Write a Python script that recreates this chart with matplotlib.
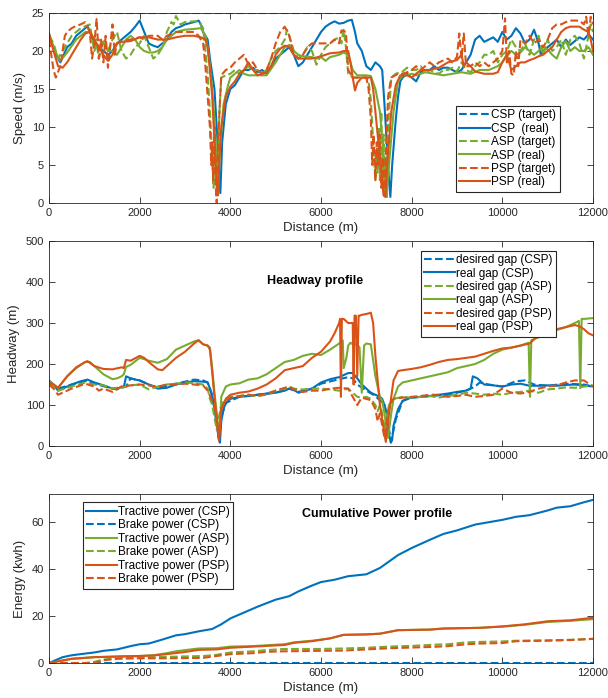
import matplotlib.pyplot as plt

plt.rcParams['font.family'] = ['Liberation Sans', 'DejaVu Sans']

BLUE = '#0072BD'
ORANGE = '#D95319'
GREEN = '#77AC30'
DARK = '#262626'

# ---------------- speed profile ----------------
csp_target_d = [0, 12000]
csp_target_v = [25, 25]

csp_real_d = [0, 150, 250, 400, 500, 600, 700, 800, 850, 900, 1000, 1100, 1200, 1300, 1400, 1500, 1600, 1700,
              1800, 1900, 2000, 2100, 2200, 2300, 2400, 2500, 2600, 2700, 2800, 2900, 3000, 3200, 3300, 3350,
              3400, 3500, 3550, 3600, 3650, 3700, 3750, 3780, 3820, 3900, 4000, 4100, 4200, 4300, 4400, 4500,
              4600, 4700, 4800, 4900, 5000, 5100, 5200, 5300, 5400, 5500, 5600, 5700, 5800, 5900, 6000, 6100,
              6200, 6300, 6400, 6500, 6600, 6680, 6750, 6800, 6900, 7000, 7100, 7200, 7300, 7350, 7400, 7450,
              7500, 7530, 7570, 7650, 7700, 7750, 7800, 7900, 8000, 8100, 8200, 8300, 8400, 8500, 8600, 8700,
              8800, 8900, 9000, 9100, 9200, 9300, 9400, 9500, 9600, 9700, 9800, 9900, 10000, 10100, 10200,
              10300, 10400, 10500, 10600, 10700, 10800, 10850, 10900, 11000, 11100, 11200, 11300, 11400, 11500,
              11600, 11700, 11800, 11900, 12000]
csp_real_v = [22.3, 19.5, 18.5, 20.5, 21.0, 22.0, 22.5, 23.0, 23.3, 22.5, 21.0, 20.5, 20.0, 19.5, 20.0, 21.0,
              21.5, 22.0, 22.5, 23.2, 24.0, 22.5, 21.0, 20.7, 20.5, 21.0, 21.5, 22.5, 23.0, 23.2, 23.5, 23.8,
              24.0, 23.5, 22.5, 21.5, 19.0, 17.0, 15.0, 10.0, 4.0, 1.3, 8.0, 13.0, 15.0, 15.5, 16.5, 17.5, 17.5,
              17.8, 17.2, 17.5, 17.0, 18.0, 19.0, 19.5, 20.0, 20.5, 19.5, 18.0, 18.5, 19.5, 20.5, 21.5, 22.5,
              23.2, 23.6, 23.9, 23.6, 23.7, 24.0, 24.1, 22.5, 21.0, 20.0, 18.0, 17.5, 18.5, 18.0, 17.5, 13.0,
              8.0, 3.0, 0.8, 5.0, 11.0, 14.0, 16.0, 16.5, 17.0, 16.5, 16.0, 17.2, 17.5, 17.5, 18.0, 17.5, 17.8,
              17.8, 17.5, 17.2, 17.5, 18.5, 19.5, 21.5, 22.0, 21.2, 21.5, 21.8, 21.2, 22.5, 21.5, 22.0, 23.0,
              22.3, 21.0, 21.5, 22.8, 21.0, 19.5, 20.0, 20.5, 21.0, 21.5, 20.5, 21.5, 20.8, 21.3, 21.8, 21.5,
              22.2, 21.5]

asp_target_d = [0, 100, 200, 300, 500, 700, 900, 1000, 1050, 1100, 1200, 1300, 1400, 1500, 1600, 1700, 1800,
                1900, 2000, 2100, 2200, 2300, 2400, 2500, 2600, 2700, 2750, 2800, 2900, 3000, 3200, 3300, 3400,
                3450, 3500, 3550, 3600, 3630, 3650, 3680, 3700, 3730, 3760, 3800, 3900, 4000, 4100, 4200, 4300,
                4400, 4500, 4600, 4700, 4800, 4900, 5000, 5100, 5200, 5250, 5300, 5400, 5500, 5600, 5700, 5800,
                5900, 6000, 6100, 6200, 6300, 6400, 6450, 6500, 6550, 6600, 6700, 6800, 6900, 7000, 7050, 7100,
                7150, 7200, 7220, 7250, 7280, 7300, 7330, 7350, 7380, 7400, 7430, 7450, 7480, 7550, 7650, 7800,
                7900, 8000, 8100, 8200, 8300, 8400, 8500, 8600, 8700, 8800, 8900, 9000, 9100, 9200, 9300, 9400,
                9500, 9600, 9700, 9800, 9900, 10000, 10100, 10200, 10300, 10400, 10500, 10600, 10700, 10800,
                10900, 11000, 11100, 11200, 11300, 11400, 11500, 11600, 11700, 11800, 11900, 11950, 12000]
asp_target_v = [22.0, 21.0, 19.0, 20.0, 22.0, 23.0, 23.5, 20.0, 21.0, 19.0, 21.5, 20.0, 21.5, 22.5, 20.0, 19.0,
                19.5, 20.5, 21.0, 22.0, 20.5, 19.0, 19.5, 20.5, 22.5, 23.8, 23.5, 24.6, 23.5, 23.8, 23.9, 23.9,
                23.0, 20.0, 17.0, 12.0, 6.0, 2.0, 7.0, 2.0, 1.0, 5.0, 12.0, 16.5, 16.8, 17.0, 17.5, 17.0, 17.5,
                18.0, 17.5, 17.5, 17.0, 17.5, 19.0, 20.0, 20.5, 21.5, 22.8, 22.0, 20.0, 19.0, 19.5, 20.5, 20.0,
                18.2, 19.5, 20.5, 21.0, 21.5, 21.8, 21.0, 22.8, 20.5, 17.0, 16.5, 16.5, 16.5, 16.5, 16.0, 13.5,
                8.0, 3.0, 7.0, 4.0, 10.0, 3.0, 12.0, 3.0, 9.0, 1.0, 6.0, 0.5, 10.0, 16.5, 17.0, 17.3, 17.8, 17.5,
                17.5, 18.0, 17.0, 17.5, 17.2, 17.0, 17.5, 17.5, 17.8, 17.3, 18.5, 17.5, 17.2, 18.0, 18.5, 19.5,
                19.5, 20.0, 18.5, 19.5, 20.0, 21.5, 20.5, 20.0, 21.0, 19.5, 21.5, 22.0, 19.5, 21.5, 20.0, 20.5,
                21.5, 19.5, 21.5, 22.0, 21.0, 19.0, 22.0, 23.5, 22.5]

asp_real_d = [0, 150, 250, 400, 600, 800, 900, 1000, 1100, 1200, 1300, 1400, 1500, 1600, 1700, 1800, 1900,
              2000, 2100, 2200, 2300, 2400, 2500, 2600, 2700, 2800, 3000, 3200, 3350, 3450, 3500, 3550, 3600,
              3650, 3700, 3730, 3770, 3850, 3950, 4000, 4100, 4200, 4300, 4400, 4600, 4800, 5000, 5200, 5300,
              5400, 5500, 5600, 5800, 5900, 6000, 6100, 6200, 6400, 6500, 6600, 6700, 6800, 6900, 7000, 7100,
              7200, 7300, 7400, 7450, 7500, 7600, 7700, 7800, 7900, 8000, 8100, 8200, 8300, 8500, 8700, 8900,
              9100, 9300, 9500, 9700, 9900, 10000, 10100, 10200, 10300, 10400, 10500, 10700, 10900, 11000,
              11100, 11200, 11300, 11400, 11500, 11600, 11700, 11800, 11900, 12000]
asp_real_v = [22.0, 19.8, 18.7, 19.8, 21.5, 22.5, 22.5, 21.5, 21.5, 21.0, 20.0, 20.0, 19.5, 20.5, 21.5, 22.0,
              21.5, 20.5, 20.0, 19.8, 19.8, 20.0, 20.5, 21.5, 22.0, 22.5, 22.8, 22.9, 23.0, 22.0, 20.5, 18.0,
              15.0, 11.0, 5.0, 1.5, 7.0, 13.0, 15.5, 16.5, 17.0, 17.5, 17.0, 16.8, 16.8, 16.8, 18.5, 20.5, 20.8,
              20.0, 19.5, 19.3, 19.2, 19.0, 19.2, 18.7, 19.2, 19.5, 19.8, 19.5, 17.5, 16.8, 16.8, 16.8, 16.7,
              15.0, 12.0, 5.0, 1.5, 5.0, 12.0, 16.0, 16.8, 16.8, 17.0, 16.8, 17.0, 17.2, 17.0, 16.8, 17.0, 17.2,
              17.0, 17.5, 17.5, 18.0, 18.5, 19.5, 20.0, 19.5, 19.8, 20.5, 19.5, 20.5, 20.2, 19.5, 19.0, 20.5,
              21.3, 20.0, 20.5, 20.0, 20.0, 20.5, 19.5]

psp_target_d = [0, 50, 100, 150, 250, 350, 400, 500, 600, 700, 800, 900, 950, 1000, 1050, 1100, 1150, 1200,
                1250, 1300, 1350, 1400, 1450, 1500, 1600, 1800, 2000, 2100, 2200, 2400, 2500, 2600, 2800, 3000,
                3200, 3300, 3400, 3450, 3500, 3550, 3580, 3600, 3620, 3650, 3680, 3700, 3720, 3760, 3800, 3900,
                4000, 4100, 4200, 4300, 4400, 4500, 4600, 4700, 4800, 4900, 5000, 5100, 5200, 5300, 5400, 5500,
                5600, 5700, 5800, 5900, 6000, 6100, 6200, 6300, 6400, 6450, 6550, 6600, 6700, 6800, 7000, 7050,
                7100, 7130, 7160, 7200, 7230, 7260, 7300, 7330, 7370, 7400, 7440, 7480, 7550, 7700, 7800, 7900,
                8000, 8100, 8200, 8300, 8400, 8500, 8600, 8800, 8900, 9000, 9050, 9100, 9150, 9200, 9300, 9400,
                9500, 9600, 9700, 9800, 9900, 10000, 10060, 10100, 10150, 10200, 10250, 10300, 10350, 10400,
                10500, 10600, 10700, 10800, 10900, 11000, 11100, 11200, 11300, 11400, 11500, 11600, 11700,
                11800, 11850, 11900, 11950, 12000]
psp_target_v = [21.5, 19.5, 17.5, 16.5, 18.0, 22.0, 22.5, 23.0, 23.3, 23.5, 23.8, 22.5, 19.0, 21.0, 24.2, 19.0,
                21.5, 18.5, 22.0, 17.8, 20.5, 23.5, 19.5, 21.0, 21.3, 21.5, 21.8, 21.5, 22.0, 22.0, 21.5, 22.0,
                22.5, 22.5, 22.5, 22.0, 21.0, 18.0, 14.0, 10.0, 5.0, 8.0, 3.0, 10.0, 2.0, 0.0, 6.0, 12.0, 16.8,
                17.5, 17.8, 18.5, 19.0, 19.5, 18.2, 18.5, 17.5, 17.0, 17.5, 19.0, 21.0, 22.5, 23.2, 22.0, 19.5,
                19.0, 19.5, 20.5, 21.0, 21.0, 21.0, 21.0, 21.0, 21.5, 21.0, 22.7, 22.5, 17.5, 16.5, 16.5, 16.5,
                15.0, 11.0, 5.0, 9.0, 3.0, 8.0, 5.0, 9.0, 2.0, 6.0, 1.0, 8.0, 14.0, 16.5, 17.0, 17.0, 17.2, 17.5,
                18.0, 17.5, 18.0, 18.5, 18.0, 18.5, 19.0, 18.5, 19.2, 22.3, 19.0, 22.3, 18.0, 18.0, 18.5, 18.0,
                18.5, 18.0, 18.5, 19.0, 20.0, 24.3, 18.5, 20.0, 17.0, 16.8, 20.0, 18.0, 21.5, 21.0, 22.0, 21.0,
                21.5, 20.5, 21.5, 23.0, 23.5, 23.5, 23.8, 24.0, 24.0, 24.0, 23.5, 24.5, 22.0, 24.5, 23.5]

psp_real_d = [0, 100, 200, 300, 400, 500, 600, 700, 800, 900, 1000, 1100, 1200, 1300, 1400, 1500, 1600, 1800,
              2000, 2200, 2400, 2600, 2800, 3000, 3200, 3350, 3450, 3500, 3550, 3600, 3650, 3700, 3730, 3760,
              3800, 3900, 4000, 4100, 4200, 4300, 4400, 4500, 4600, 4700, 4800, 4900, 5000, 5100, 5200, 5300,
              5400, 5500, 5600, 5800, 6000, 6200, 6400, 6500, 6600, 6650, 6700, 6750, 6800, 6900, 7000, 7100,
              7150, 7200, 7300, 7380, 7420, 7460, 7550, 7650, 7750, 7900, 8000, 8100, 8200, 8400, 8600, 8800,
              9000, 9100, 9150, 9200, 9300, 9400, 9600, 9800, 9900, 10000, 10100, 10150, 10200, 10300, 10400,
              10500, 10600, 10700, 10800, 10900, 11000, 11100, 11200, 11300, 11400, 11500, 11700, 11800, 11900,
              11950, 12000]
psp_real_v = [22.3, 20.0, 18.0, 17.8, 18.5, 19.5, 20.5, 21.5, 22.3, 22.5, 21.5, 20.5, 19.5, 18.7, 19.5, 21.0,
              21.2, 21.3, 21.8, 21.8, 21.5, 21.5, 21.8, 22.0, 22.0, 21.8, 21.5, 20.5, 17.5, 14.0, 8.0, 2.0, 1.0,
              6.0, 10.0, 14.0, 15.3, 16.0, 17.0, 17.5, 18.5, 17.5, 16.8, 17.0, 17.2, 18.0, 19.5, 20.3, 20.7,
              20.5, 19.5, 19.0, 19.0, 19.0, 19.3, 19.7, 19.8, 20.0, 20.0, 18.5, 16.5, 14.8, 15.8, 16.5, 16.5,
              16.5, 15.0, 12.0, 6.0, 1.0, 0.8, 5.0, 12.0, 15.5, 16.8, 16.8, 16.5, 17.0, 17.5, 17.5, 17.8, 18.5,
              18.8, 19.5, 18.0, 18.5, 18.0, 17.3, 17.0, 17.0, 17.2, 18.5, 19.5, 18.5, 17.5, 18.0, 18.5, 18.5,
              18.8, 19.0, 19.3, 19.5, 20.0, 20.5, 21.5, 22.5, 23.0, 23.2, 23.2, 22.8, 22.5, 21.5, 20.0]

# ---------------- headway profile ----------------
csp_des_d = [0, 200, 500, 850, 1000, 1400, 1700, 1800, 2000, 2200, 2400, 2800, 3200, 3400, 3500, 3600, 3700,
             3750, 3800, 3900, 4200, 4600, 5000, 5300, 5500, 5800, 6000, 6400, 6600, 6700, 6800, 7000, 7200,
             7400, 7500, 7550, 7650, 7800, 8000, 8400, 8800, 9200, 9400, 9500, 9700, 10000, 10300, 10500, 10700,
             11000, 11400, 11800, 12000]
csp_des_h = [155, 140, 150, 160, 152, 140, 145, 165, 160, 150, 142, 152, 162, 160, 155, 125, 60, 15, 70, 105,
             120, 125, 130, 140, 132, 140, 152, 163, 168, 165, 150, 135, 122, 100, 40, 12, 65, 110, 118, 122, 125,
             135, 145, 155, 150, 145, 158, 160, 150, 147, 152, 150, 145]

csp_gap_d = [0, 100, 200, 300, 500, 700, 850, 1000, 1200, 1400, 1500, 1600, 1650, 1700, 1800, 1900, 2000,
             2100, 2200, 2400, 2600, 2800, 3000, 3200, 3400, 3500, 3550, 3600, 3650, 3700, 3750, 3770, 3800,
             3850, 3900, 4000, 4200, 4400, 4600, 4800, 5000, 5200, 5300, 5400, 5500, 5600, 5800, 6000, 6200,
             6400, 6600, 6700, 6800, 6900, 7000, 7100, 7200, 7300, 7350, 7400, 7450, 7500, 7540, 7570, 7600,
             7700, 7800, 7900, 8000, 8200, 8400, 8600, 8800, 9000, 9200, 9300, 9350, 9450, 9600, 9800, 10000,
             10200, 10400, 10600, 10800, 11000, 11200, 11400, 11600, 11800, 12000]
csp_gap_h = [160, 150, 135, 140, 150, 158, 162, 155, 148, 140, 138, 145, 143, 170, 165, 162, 160, 155, 150,
             140, 142, 150, 155, 158, 157, 155, 140, 120, 90, 50, 15, 8, 60, 90, 105, 115, 120, 122, 125, 128,
             130, 135, 140, 137, 130, 133, 140, 155, 163, 168, 178, 178, 165, 150, 140, 130, 125, 120, 115, 100,
             80, 30, 8, 15, 50, 90, 110, 115, 118, 120, 122, 125, 128, 132, 135, 140, 170, 165, 150, 148, 145,
             150, 152, 147, 147, 148, 147, 149, 150, 148, 145]

asp_des_d = [0, 200, 500, 800, 1000, 1200, 1400, 1600, 1800, 2000, 2200, 2400, 2600, 2800, 3000, 3200, 3400,
             3500, 3550, 3600, 3650, 3700, 3730, 3800, 3900, 4000, 4200, 4400, 4600, 4800, 5000, 5200, 5300,
             5400, 5600, 5800, 6000, 6200, 6400, 6600, 6800, 6900, 7000, 7100, 7200, 7250, 7300, 7350, 7400,
             7450, 7500, 7600, 7800, 8000, 8200, 8400, 8600, 8800, 9000, 9200, 9400, 9600, 9800, 10000, 10200,
             10400, 10600, 10800, 11000, 11200, 11400, 11600, 11800, 12000]
asp_des_h = [155, 135, 145, 155, 150, 148, 140, 142, 148, 150, 138, 145, 150, 152, 155, 153, 150, 140, 115,
             100, 70, 40, 60, 100, 115, 120, 122, 125, 122, 125, 135, 140, 145, 140, 138, 140, 140, 138, 135,
             140, 120, 118, 120, 115, 100, 85, 100, 80, 40, 70, 100, 115, 120, 118, 120, 122, 118, 122, 125, 130,
             128, 125, 128, 125, 130, 132, 135, 130, 138, 140, 143, 142, 145, 148]

asp_gap_d = [0, 200, 400, 600, 800, 900, 1000, 1100, 1200, 1400, 1500, 1600, 1650, 1700, 1800, 2000, 2100,
             2200, 2400, 2600, 2800, 3000, 3200, 3300, 3400, 3500, 3550, 3600, 3650, 3700, 3750, 3780, 3800,
             3900, 4000, 4200, 4400, 4600, 4800, 5000, 5200, 5400, 5600, 5800, 6000, 6200, 6400, 6480, 6500,
             6560, 6600, 6650, 6700, 6800, 6850, 6900, 6950, 7000, 7100, 7200, 7300, 7350, 7400, 7450, 7480,
             7550, 7600, 7700, 7800, 8000, 8200, 8400, 8600, 8800, 9000, 9200, 9400, 9600, 9800, 10000, 10200,
             10400, 10580, 10610, 10640, 10800, 11000, 11200, 11400, 11600, 11690, 11720, 11750, 11800, 12000]
asp_gap_h = [158, 142, 170, 190, 205, 205, 195, 185, 175, 163, 165, 170, 175, 193, 198, 215, 212, 208, 203,
             212, 235, 245, 255, 258, 248, 245, 240, 190, 130, 80, 30, 60, 120, 145, 150, 153, 162, 165, 175,
             190, 205, 210, 220, 225, 222, 235, 250, 258, 190, 215, 245, 252, 248, 248, 240, 130, 245, 250, 248,
             170, 120, 110, 80, 40, 20, 80, 115, 145, 155, 160, 165, 170, 175, 180, 190, 195, 200, 210, 225, 235,
             240, 245, 252, 120, 258, 265, 275, 283, 290, 300, 305, 141, 310, 310, 312]

psp_des_d = [0, 100, 200, 300, 500, 800, 1000, 1100, 1200, 1400, 1600, 1800, 2000, 2200, 2400, 2600, 2800,
             3000, 3200, 3400, 3500, 3600, 3650, 3700, 3750, 3800, 3900, 4000, 4200, 4400, 4600, 4800, 5000,
             5200, 5300, 5400, 5600, 5800, 6000, 6200, 6400, 6600, 6700, 6800, 6900, 7000, 7100, 7200, 7250,
             7300, 7350, 7400, 7450, 7500, 7600, 7800, 8000, 8200, 8400, 8600, 8800, 9000, 9200, 9400, 9600,
             9800, 10000, 10200, 10400, 10600, 10800, 11000, 11200, 11400, 11600, 11800, 12000]
psp_des_h = [150, 140, 125, 130, 140, 152, 145, 135, 140, 132, 145, 148, 150, 148, 145, 150, 150, 152, 150,
             148, 135, 110, 100, 60, 15, 90, 110, 118, 122, 125, 122, 128, 135, 142, 145, 138, 132, 135, 135,
             140, 142, 140, 120, 100, 118, 115, 112, 90, 60, 80, 50, 20, 60, 100, 115, 118, 120, 122, 125, 125,
             120, 122, 125, 120, 122, 125, 140, 130, 128, 132, 140, 145, 148, 155, 160, 160, 145]

psp_gap_d = [0, 100, 200, 400, 600, 800, 850, 1000, 1200, 1400, 1600, 1650, 1700, 1800, 2000, 2100, 2200,
             2400, 2500, 2600, 2800, 3000, 3200, 3300, 3400, 3500, 3550, 3600, 3650, 3700, 3750, 3770, 3800,
             3900, 4000, 4200, 4400, 4600, 4800, 5000, 5200, 5400, 5600, 5800, 6000, 6200, 6300, 6400, 6420,
             6440, 6460, 6500, 6600, 6700, 6720, 6740, 6770, 6800, 6830, 6860, 6900, 7000, 7100, 7150, 7200,
             7300, 7400, 7430, 7480, 7550, 7600, 7700, 7800, 8000, 8200, 8400, 8600, 8800, 9000, 9200, 9400,
             9600, 9800, 10000, 10200, 10400, 10600, 10800, 11000, 11200, 11400, 11600, 11700, 11800, 11900,
             12000]
psp_gap_h = [155, 150, 142, 170, 192, 205, 207, 195, 188, 187, 192, 190, 210, 208, 220, 215, 205, 187, 185,
             195, 215, 230, 250, 258, 248, 245, 235, 180, 120, 70, 15, 40, 90, 115, 125, 130, 133, 140, 150, 165,
             185, 190, 195, 215, 230, 255, 275, 300, 310, 120, 310, 310, 300, 300, 150, 318, 318, 170, 318, 318,
             320, 322, 325, 300, 220, 100, 30, 10, 60, 120, 160, 183, 185, 188, 192, 198, 205, 210, 212, 215,
             218, 225, 232, 238, 240, 245, 250, 270, 278, 285, 290, 295, 292, 285, 275, 270]

# ---------------- cumulative energy ----------------
csp_trac_d = [0, 300, 500, 700, 1000, 1200, 1500, 1800, 2000, 2200, 2500, 2800, 3000, 3300, 3600, 3800, 4000,
              4300, 4600, 5000, 5300, 5500, 5800, 6000, 6300, 6600, 7000, 7300, 7700, 8000, 8400, 8700, 9000,
              9400, 9700, 10000, 10300, 10600, 11000, 11200, 11500, 11800, 12000]
csp_trac_e = [0, 2.5, 3.3, 3.8, 4.5, 5.2, 5.8, 7.2, 8.0, 8.3, 10.0, 11.8, 12.3, 13.5, 14.5, 16.5, 19.0, 21.5,
              24.0, 27.0, 28.5, 30.5, 33.0, 34.5, 35.5, 37.0, 37.8, 40.5, 46.0, 49.0, 52.5, 55.0, 56.5, 59.0,
              60.0, 61.0, 62.3, 63.0, 65.0, 66.2, 66.8, 68.5, 69.5]
csp_brake_d = [0, 12000]
csp_brake_e = [0, 0]

asp_trac_d = [0, 500, 1000, 1500, 2000, 2300, 2600, 2800, 3000, 3300, 3700, 4000, 4500, 5000, 5200, 5400, 5800,
              6200, 6500, 7000, 7300, 7700, 8400, 8700, 9500, 10000, 10500, 11000, 11500, 12000]
asp_trac_e = [0, 1.8, 2.5, 2.7, 3.0, 3.3, 4.2, 5.0, 5.5, 6.2, 6.3, 7.0, 7.2, 7.8, 8.0, 8.8, 9.5, 10.5, 12.0,
              12.2, 12.5, 14.0, 14.3, 14.7, 15.0, 15.5, 16.3, 17.5, 18.0, 18.7]
asp_brake_d = [0, 800, 1000, 1200, 1500, 2000, 2500, 3000, 3400, 3700, 4000, 4500, 4800, 5200, 6000, 6500, 7000,
               7500, 8000, 8500, 8800, 9200, 9500, 10000, 10300, 11000, 11500, 12000]
asp_brake_e = [0, 0, 0.5, 1.5, 2.0, 2.3, 2.6, 2.8, 3.0, 3.5, 4.5, 5.0, 5.5, 6.0, 6.0, 6.2, 6.5, 7.0, 7.3, 7.8,
               8.0, 8.8, 9.0, 9.2, 9.5, 9.7, 9.9, 10.3]

psp_trac_d = [0, 500, 1000, 1500, 2000, 2300, 2600, 3000, 3300, 3700, 4000, 4500, 5000, 5200, 5400, 5800, 6200,
              6500, 7000, 7300, 7700, 8400, 8700, 9500, 10000, 10500, 11000, 11500, 12000]
psp_trac_e = [0, 1.8, 2.5, 2.8, 3.0, 3.2, 3.8, 4.7, 5.6, 5.8, 6.5, 7.0, 7.5, 7.7, 8.6, 9.3, 10.5, 12.0, 12.2,
              12.5, 14.0, 14.2, 14.7, 15.0, 15.6, 16.5, 17.8, 18.2, 19.3]
psp_brake_d = [0, 1000, 1200, 1500, 2000, 2500, 3000, 3400, 3700, 4000, 4500, 4800, 5200, 6000, 6500, 7000, 7500,
               8000, 8500, 8800, 9200, 9500, 10000, 10300, 11000, 11500, 12000]
psp_brake_e = [0, 0, 1.2, 1.8, 2.0, 2.0, 2.1, 2.2, 3.0, 3.8, 4.2, 4.8, 5.0, 5.2, 5.3, 5.8, 6.3, 6.6, 6.9, 7.2,
               8.0, 8.3, 8.5, 9.3, 9.5, 9.8, 10.3]

LW = 1.5
FS = 8
LFS = 9.5


def style(ax):
    ax.set_xlim(0, 12000)
    ax.set_xticks(range(0, 12001, 2000))
    ax.tick_params(direction='in', top=True, right=True, length=4, width=0.6, pad=3.5,
                   labelsize=FS, colors=DARK)
    for s in ax.spines.values():
        s.set_color(DARK)
        s.set_linewidth(0.6)
    ax.set_xlabel('Distance (m)', fontsize=LFS, color=DARK, labelpad=3)


def legend(ax, **kw):
    leg = ax.legend(fontsize=8.5, handlelength=2.6, handletextpad=0.1, labelspacing=0.12,
                    borderpad=0.3, borderaxespad=0, fancybox=False, framealpha=1, **kw)
    leg.get_frame().set_edgecolor(DARK)
    leg.get_frame().set_linewidth(0.8)


fig = plt.figure(figsize=(6.08, 6.98), dpi=100)
ax1 = fig.add_axes([0.0806, 0.7092, 0.8947, 0.2722])
ax2 = fig.add_axes([0.0806, 0.3610, 0.8947, 0.2937])
ax3 = fig.add_axes([0.0806, 0.0501, 0.8947, 0.2421])

# speed
ax1.plot(csp_target_d, csp_target_v, '--', color=BLUE, lw=LW, label='CSP (target)')
ax1.plot(csp_real_d, csp_real_v, '-', color=BLUE, lw=LW, label='CSP  (real)')
ax1.plot(asp_target_d, asp_target_v, '--', color=GREEN, lw=LW, label='ASP (target)')
ax1.plot(asp_real_d, asp_real_v, '-', color=GREEN, lw=LW, label='ASP (real)')
ax1.plot(psp_target_d, psp_target_v, '--', color=ORANGE, lw=LW, label='PSP (target)')
ax1.plot(psp_real_d, psp_real_v, '-', color=ORANGE, lw=LW, label='PSP (real)')
style(ax1)
ax1.set_ylim(0, 25)
ax1.set_yticks(range(0, 26, 5))
ax1.set_ylabel('Speed (m/s)', fontsize=LFS, color=DARK)
legend(ax1, loc='lower right', bbox_to_anchor=(0.939, 0.058))

# headway
ax2.plot(csp_des_d, csp_des_h, '--', color=BLUE, lw=LW, label='desired gap (CSP)')
ax2.plot(csp_gap_d, csp_gap_h, '-', color=BLUE, lw=LW, label='real gap (CSP)')
ax2.plot(asp_des_d, asp_des_h, '--', color=GREEN, lw=LW, label='desired gap (ASP)')
ax2.plot(asp_gap_d, asp_gap_h, '-', color=GREEN, lw=LW, label='real gap (ASP)')
ax2.plot(psp_des_d, psp_des_h, '--', color=ORANGE, lw=LW, label='desired gap (PSP)')
ax2.plot(psp_gap_d, psp_gap_h, '-', color=ORANGE, lw=LW, label='real gap (PSP)')
style(ax2)
ax2.set_ylim(0, 500)
ax2.set_yticks(range(0, 501, 100))
ax2.set_ylabel('Headway (m)', fontsize=LFS, color=DARK)
ax2.text(0.489, 0.806, 'Headway profile', transform=ax2.transAxes, ha='center', va='center',
         fontsize=9, fontweight='bold', color='black')
legend(ax2, loc='upper right', bbox_to_anchor=(0.932, 0.953))

# energy
ax3.plot(csp_trac_d, csp_trac_e, '-', color=BLUE, lw=LW, label='Tractive power (CSP)')
ax3.plot(csp_brake_d, csp_brake_e, '--', color=BLUE, lw=LW, label='Brake power (CSP)')
ax3.plot(asp_trac_d, asp_trac_e, '-', color=GREEN, lw=LW, label='Tractive power (ASP)')
ax3.plot(asp_brake_d, asp_brake_e, '--', color=GREEN, lw=LW, label='Brake power (ASP)')
ax3.plot(psp_trac_d, psp_trac_e, '-', color=ORANGE, lw=LW, label='Tractive power (PSP)')
ax3.plot(psp_brake_d, psp_brake_e, '--', color=ORANGE, lw=LW, label='Brake power (PSP)')
style(ax3)
ax3.set_ylim(0, 72)
ax3.set_yticks(range(0, 61, 20))
ax3.set_ylabel('Energy (kwh)', fontsize=LFS, color=DARK)
ax3.text(0.603, 0.883, 'Cumulative Power profile', transform=ax3.transAxes, ha='center', va='center',
         fontsize=9, fontweight='bold', color='black')
legend(ax3, loc='upper left', bbox_to_anchor=(0.0616, 0.950))

fig.savefig('out.png', dpi=100)
